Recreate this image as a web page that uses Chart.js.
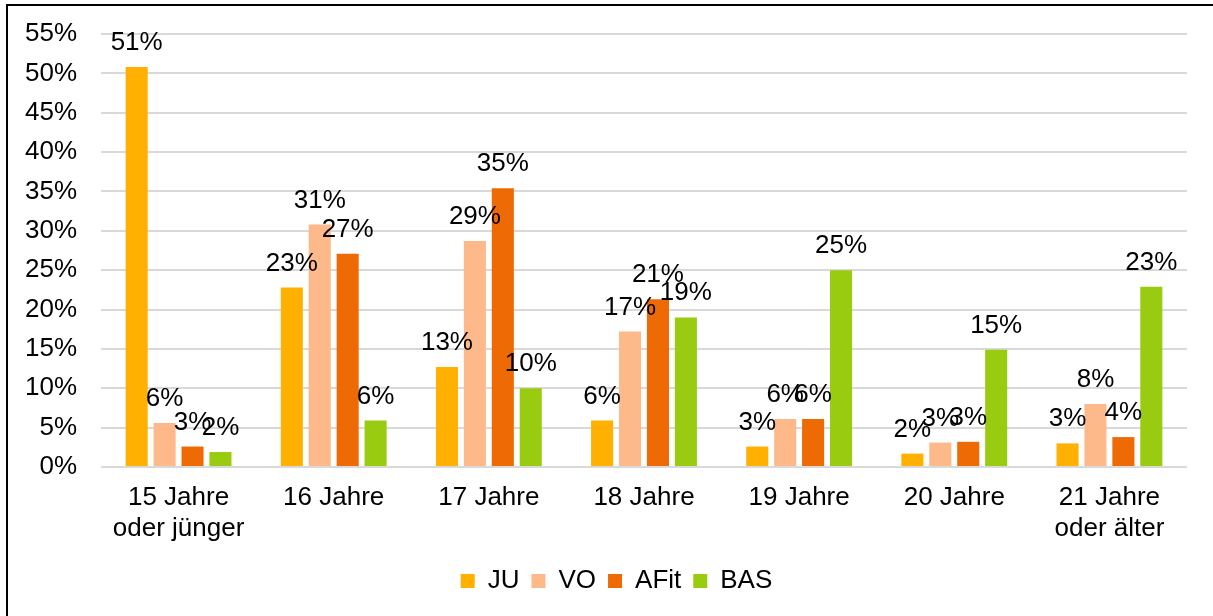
<!DOCTYPE html>
<html>
<head>
<meta charset="utf-8">
<script src="https://cdn.jsdelivr.net/npm/chart.js@4/dist/chart.umd.min.js"></script>
<style>
    html, body { margin: 0; padding: 0; background: #fff; }
    #wrap { position: relative; width: 1213px; height: 616px; overflow: hidden; }
    #rahmen { position: absolute; left: 6px; top: 4px; width: 1300px; height: 700px;
              border-left: 2px solid #000; border-top: 2px solid #000; pointer-events: none; }
    canvas { position: absolute; left: 0; top: 0; }
</style>
</head>
<body>
<div id="wrap">
    <canvas id="alterChart" width="1213" height="616"></canvas>
    <div id="rahmen"></div>
</div>
<script>
const kategorien = [['15 Jahre', 'oder jünger'], '16 Jahre', '17 Jahre', '18 Jahre', '19 Jahre', '20 Jahre', ['21 Jahre', 'oder älter']];
const werteJU   = [50.8, 22.8, 12.7, 5.9, 2.6, 1.7, 3.0];
const werteVO   = [5.6, 30.8, 28.7, 17.2, 6.1, 3.1, 8.0];
const werteAFit = [2.6, 27.1, 35.4, 21.3, 6.1, 3.2, 3.8];
const werteBAS  = [1.9, 5.9, 10.0, 19.0, 25.0, 14.9, 22.9];
const yTicks = [0, 5, 10, 15, 20, 25, 30, 35, 40, 45, 50, 55];

const schrift = "'Liberation Sans', Arial, sans-serif";

// Werte ueber den Balken schreiben
const wertePlugin = {
    id: 'wertePlugin',
    afterLayout(chart) {
        // Legende etwas nach rechts, im Original sitzt sie mittig unter dem Plotbereich
        chart.legend.left += 23;
        chart.legend.right += 23;
    },
    afterDatasetsDraw(chart) {
        const ctx = chart.ctx;
        ctx.save();
        ctx.font = '26px ' + schrift;
        ctx.fillStyle = '#000';
        ctx.textAlign = 'center';
        ctx.textBaseline = 'alphabetic';
        chart.data.datasets.forEach((ds, i) => {
            const meta = chart.getDatasetMeta(i);
            meta.data.forEach((balken, j) => {
                ctx.fillText(Math.round(ds.data[j]) + '%', balken.x, balken.y - 17);
            });
        });
        ctx.restore();
    }
};

const ctx = document.getElementById('alterChart').getContext('2d');
const chart = new Chart(ctx, {
    type: 'bar',
    data: {
        labels: kategorien,
        datasets: [
            { label: 'JU', data: werteJU, backgroundColor: '#FFB000' },
            { label: 'VO', data: werteVO, backgroundColor: '#FDB98A' },
            { label: 'AFit', data: werteAFit, backgroundColor: '#EE6A04' },
            { label: 'BAS', data: werteBAS, backgroundColor: '#99CC11' }
        ]
    },
    options: {
        responsive: false,
        animation: false,
        categoryPercentage: 0.72,
        barPercentage: 0.79,
        layout: { padding: { left: 0, right: 26, top: 34, bottom: 12 } },
        scales: {
            x: {
                afterFit(scale) { scale.height = 89; },
                grid: { display: false, drawTicks: false },
                border: { display: false },
                ticks: { color: '#000', font: { family: schrift, size: 26, lineHeight: 1.2 }, padding: 15, maxRotation: 0, autoSkip: false }
            },
            y: {
                min: 0,
                max: 55,
                afterFit(scale) { scale.width = 101; },
                afterBuildTicks(scale) { scale.ticks = yTicks.map(v => ({ value: v })); },
                grid: { color: '#D9D9D9', lineWidth: 2, drawTicks: false },
                border: { display: false },
                ticks: {
                    color: '#000',
                    padding: 24,
                    font: { family: schrift, size: 26, lineHeight: 0.7 },
                    callback: v => v + '%'
                }
            }
        },
        plugins: {
            legend: {
                position: 'bottom',
                labels: {
                    color: '#000',
                    boxWidth: 14,
                    boxHeight: 14,
                    padding: 12,
                    font: { family: schrift, size: 26 }
                }
            },
            tooltip: { enabled: false }
        }
    },
    plugins: [wertePlugin]
});
</script>
</body>
</html>
